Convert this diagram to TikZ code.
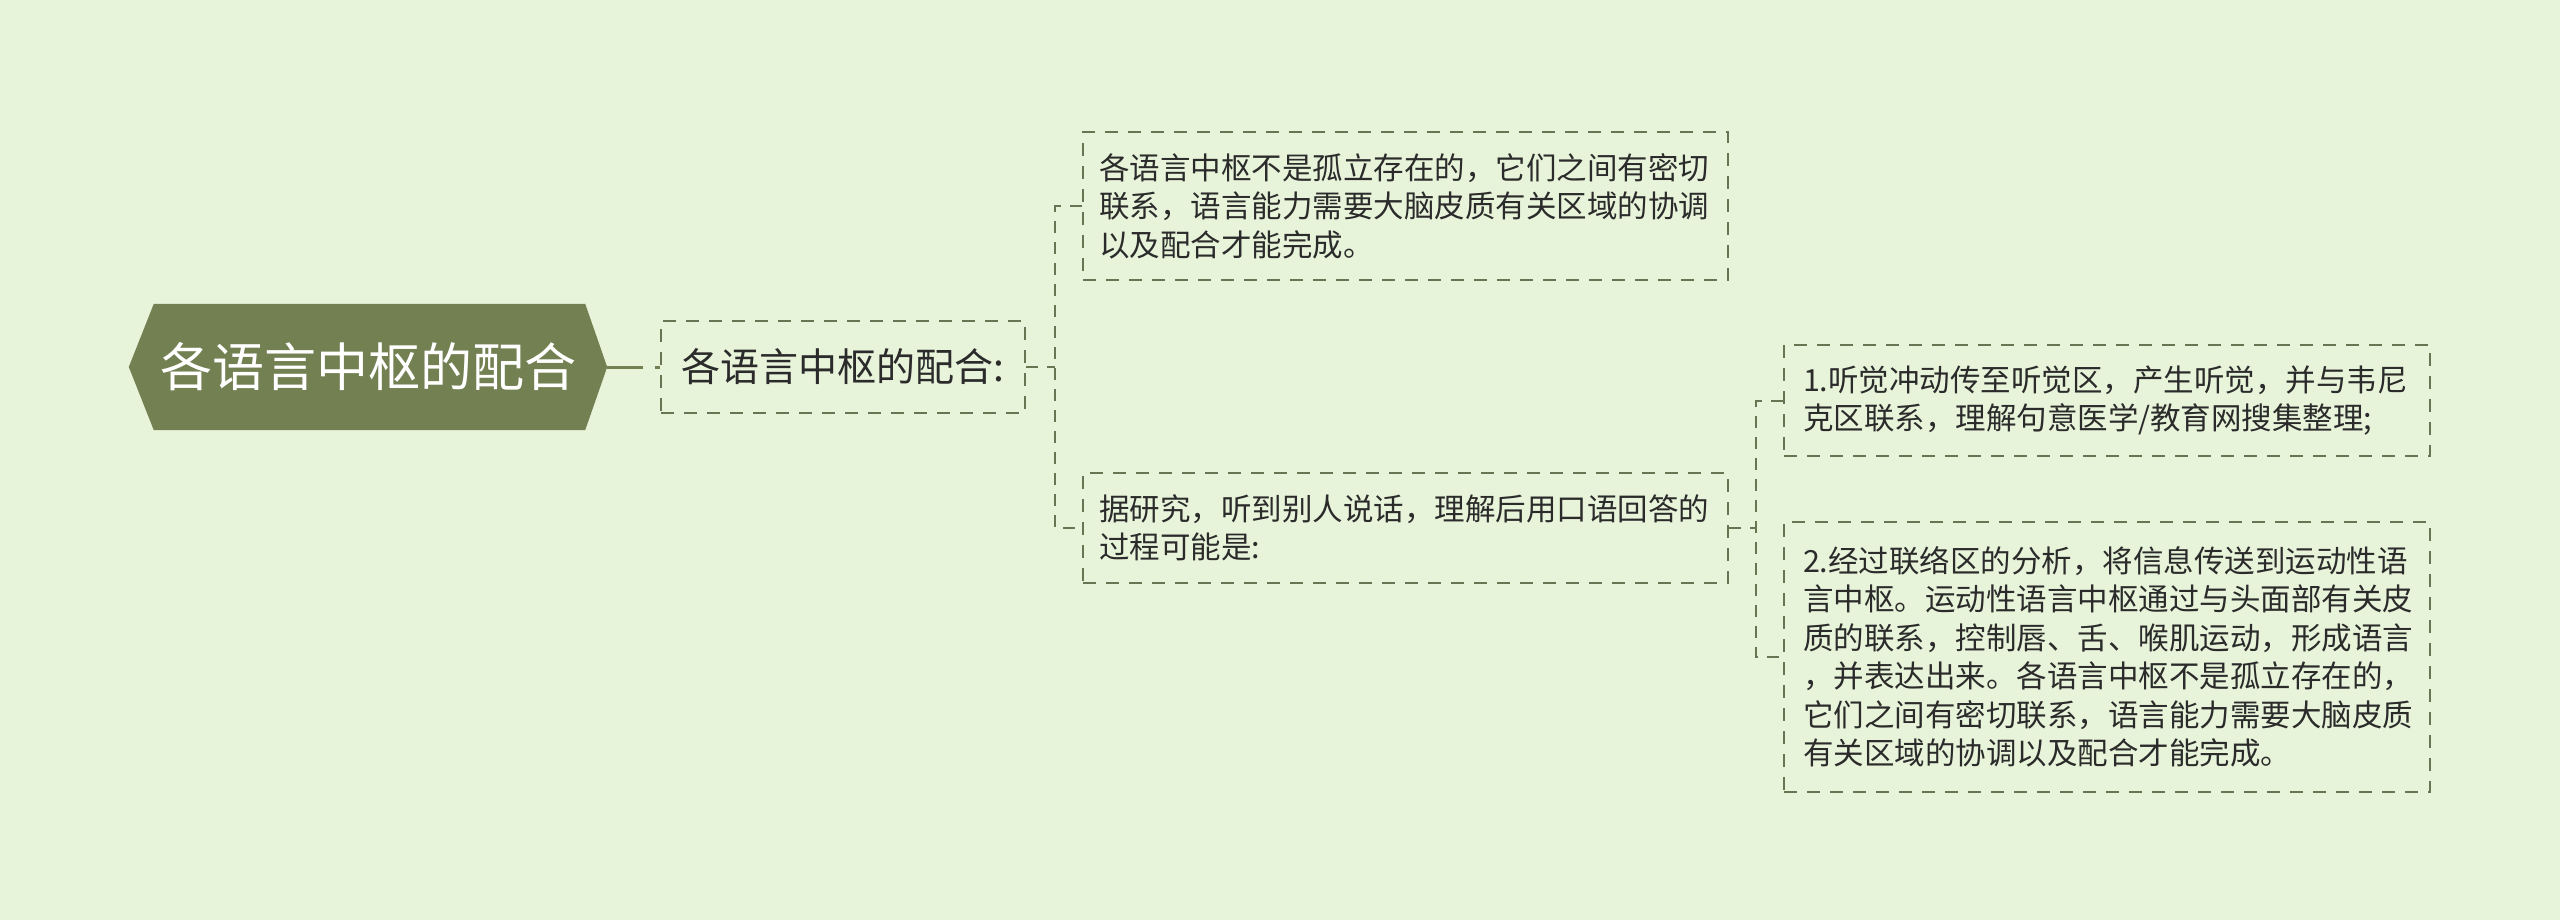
\documentclass[tikz,border=0pt]{standalone}
\usepackage{fontspec}
\newfontfamily\cjk{Noto Sans CJK SC}
\definecolor{bgc}{HTML}{E8F4DA}
\definecolor{olive}{HTML}{738052}
\definecolor{edgec}{HTML}{687552}
\definecolor{txtc}{HTML}{2B2B2B}
\begin{document}
\begin{tikzpicture}[x=1pt,y=-1pt,
  leafbox/.style={draw=edgec, line width=2pt, dash pattern=on 13pt off 10pt,
    text=txtc, align=left, inner ysep=0pt, anchor=center,
    font=\cjk\fontsize{30.5pt}{38.5pt}\selectfont},
  midbox/.style={draw=edgec, line width=2pt, dash pattern=on 13pt off 10pt,
    text=txtc, align=center, anchor=center,
    font=\cjk\fontsize{39pt}{46pt}\selectfont},
  link/.style={draw=edgec, line width=2pt, dash pattern=on 12pt off 9pt},
  rootlink/.style={draw=olive, line width=3pt, dash pattern=on 36pt off 12pt}
]
\fill[bgc] (0,0) rectangle (2560,920);
\useasboundingbox (0,0) rectangle (2560,920);

% root
\node[minimum width=478pt, minimum height=126pt, inner sep=0pt, text=white,
  font=\cjk\fontsize{52pt}{60pt}\selectfont] (root) at (368,367) {各语言中枢的配合};
\fill[olive] (root.west) -- ([xshift=25pt]root.north west) -- ([xshift=-22pt]root.north east)
  -- (root.east) -- ([xshift=-22pt]root.south east) -- ([xshift=25pt]root.south west) -- cycle;
\node[minimum width=478pt, minimum height=126pt, inner sep=0pt, text=white,
  font=\cjk\fontsize{52pt}{60pt}\selectfont] at (root.center) {各语言中枢的配合};

% level 1
\node[midbox, minimum width=364pt, minimum height=92pt, inner sep=0pt] (c1) at (843,367) {各语言中枢的配合:};

% level 2
\node[leafbox, minimum width=645pt, minimum height=148pt, inner xsep=16pt, text width=613pt] (a) at (1405.5,206)
  {各语言中枢不是孤立存在的，它们之间有密切\\联系，语言能力需要大脑皮质有关区域的协调\\以及配合才能完成。};
\node[leafbox, minimum width=645pt, minimum height=110pt, inner xsep=16pt, text width=613pt] (b) at (1405.5,528)
  {据研究，听到别人说话，理解后用口语回答的\\过程可能是:};

% level 3
\node[leafbox, minimum width=646pt, minimum height=111pt, inner xsep=19pt, text width=608pt] (c) at (2107,400.5)
  {1.听觉冲动传至听觉区，产生听觉，并与韦尼\\克区联系，理解句意医学/教育网搜集整理;};
\node[leafbox, minimum width=646pt, minimum height=270pt, inner xsep=19pt, text width=608pt] (d) at (2107,657)
  {2.经过联络区的分析，将信息传送到运动性语\\言中枢。运动性语言中枢通过与头面部有关皮\\质的联系，控制唇、舌、喉肌运动，形成语言\\，并表达出来。各语言中枢不是孤立存在的，\\它们之间有密切联系，语言能力需要大脑皮质\\有关区域的协调以及配合才能完成。};

% connectors
\coordinate (j1) at (1055,367);
\coordinate (j2) at (1756,528);
\draw[rootlink] (root.east) -- (c1.west);
\draw[link] (c1.east) -- (j1);
\draw[link] (a.west) -| (j1) |- (b.west);
\draw[link] (b.east) -- (j2);
\draw[link] (c.west) -| (j2) |- (d.west);
\end{tikzpicture}
\end{document}
